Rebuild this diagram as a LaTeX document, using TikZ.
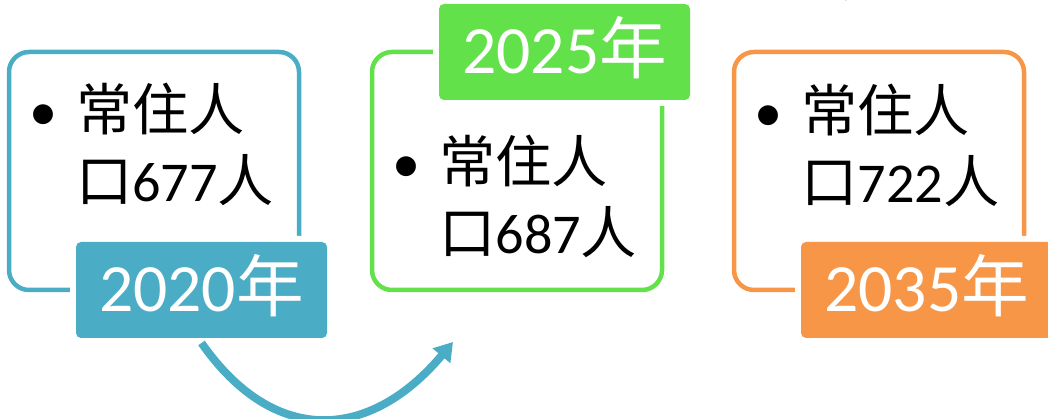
\documentclass[tikz,border=0pt]{standalone}
\usepackage{fontspec}
\setmainfont{Carlito}
\newfontfamily\cjk{Noto Sans CJK SC}
\usepackage{xcolor}
\definecolor{StageBlue}{HTML}{4BACC6}
\definecolor{StageGreen}{HTML}{62E14B}
\definecolor{StageOrange}{HTML}{F79646}
\usepackage{tikz}
\usetikzlibrary{positioning,arrows.meta}

\begin{document}
\begin{tikzpicture}[line width=0.09cm, >={Triangle[length=0.36cm,width=0.44cm]},
    frame/.style={
    draw,
    rectangle,
    rounded corners=0.4cm,
    minimum width=5.8cm,
    minimum height=4.76cm,
    outer sep=0pt},
    yearbox/.style={
    rectangle,
    rounded corners=0.1cm,
    minimum width=5.02cm,
    minimum height=1.92cm,
    inner sep=0pt, outer sep=0pt,
    text height=0.86cm, text depth=0pt,
    text=white,
    preaction={draw=white, line width=0.24cm},
    font=\fontsize{38.5}{46}\selectfont},
    body/.style={
    anchor=base west,
    inner sep=0pt,
    font=\fontsize{32}{40}\selectfont}]
    \useasboundingbox (0,0) rectangle (20.96,8.38);

    \node [frame, draw=StageBlue] (Box1) at (3.08,4.96) {};
    \node [frame, draw=StageGreen, right=1.46cm of Box1] (Box2) {};
    \node [frame, draw=StageOrange, right=1.44cm of Box2] (Box3) {};

    \node [yearbox, fill=StageBlue, anchor=west] (Year1) at ([xshift=1.34cm]Box1.south west) {2020{\cjk 年}};
    \node [yearbox, fill=StageGreen, anchor=west] (Year2) at ([xshift=1.34cm]Box2.north west) {2025{\cjk 年}};
    \node [yearbox, fill=StageOrange, anchor=west] (Year3) at ([xshift=1.34cm]Box3.south west) {2035{\cjk 年}};

    \node [body] (Text1) at ([shift={(0.36cm,-1.58cm)}]Box1.north west)
        {\begin{tabular}[t]{@{}l@{}l@{}}\makebox[0.94cm][l]{•} & {\cjk 常住人}\\ & {\cjk 口}677{\cjk 人}\end{tabular}};
    \node [body] (Text2) at ([shift={(0.36cm,-2.62cm)}]Box2.north west)
        {\begin{tabular}[t]{@{}l@{}l@{}}\makebox[0.94cm][l]{•} & {\cjk 常住人}\\ & {\cjk 口}687{\cjk 人}\end{tabular}};
    \node [body] (Text3) at ([shift={(0.36cm,-1.6cm)}]Box3.north west)
        {\begin{tabular}[t]{@{}l@{}l@{}}\makebox[0.94cm][l]{•} & {\cjk 常住人}\\ & {\cjk 口}722{\cjk 人}\end{tabular}};

    \coordinate [below right=1.04cm and 1.62cm of Box2.south west] (Next2);
    \coordinate [above right=1.02cm and 2.24cm of Box3.north west] (Next3);

    \draw[->, color=StageBlue, line width=0.16cm] ([yshift=-0.1cm]Year1.south) to[out=-55, in=-130, looseness=1.3] (Next2);
    \draw[->, color=StageOrange, line width=0.16cm] ([yshift=0.25cm]Year2.north) to[out=55, in=100, looseness=1.25] (Next3);
\end{tikzpicture}
\end{document}
